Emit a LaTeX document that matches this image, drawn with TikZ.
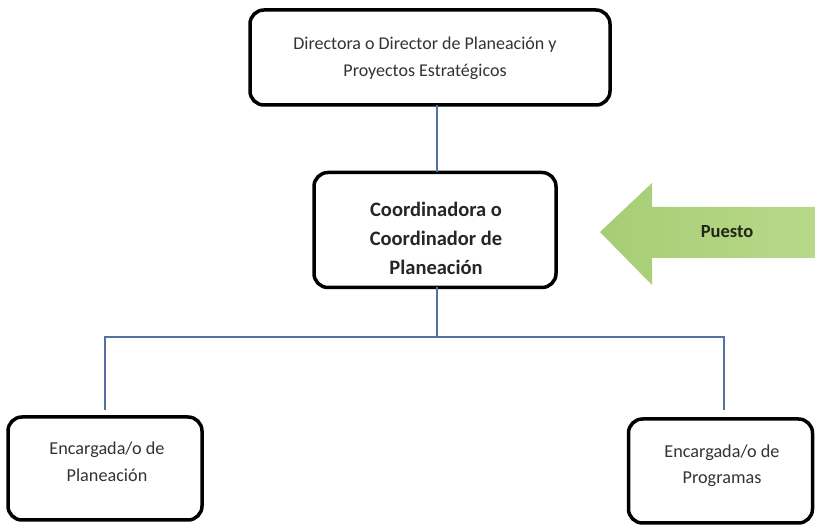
\documentclass[tikz,border=0pt]{standalone}
\usepackage{fontspec}
\setmainfont{Carlito}
\definecolor{connblue}{RGB}{84,114,160}
\definecolor{arrL}{RGB}{166,205,116}
\definecolor{arrR}{RGB}{184,216,138}
\definecolor{puestotxt}{RGB}{30,40,20}
\begin{document}
\begin{tikzpicture}[x=1pt,y=-1pt,
  box/.style={draw=black,line width=3.5pt,rounded corners=14pt,fill=white,
    align=center,inner sep=0pt,text=black!80},
  conn/.style={draw=connblue,line width=1.2pt}]
\useasboundingbox (0,0) rectangle (815,526);
\fill[white] (0,0) rectangle (815,526);
% boxes
\node[box,minimum width=360pt,minimum height=95pt] (top) at (430,57.5) {};
\node[font=\fontsize{18}{27}\selectfont,align=center,text=black!80,inner sep=0pt]
  (toptxt) at (425,58) {Directora o Director de Planeación y\\Proyectos Estratégicos};
\node[box,minimum width=242pt,minimum height=115pt] (mid) at (435,230) {};
\node[font=\bfseries\fontsize{20.5}{29}\selectfont,align=center,text=black!85,inner sep=0pt]
  (midtxt) at (436,238) {Coordinadora o\\Coordinador de\\Planeación};
\node[box,minimum width=194pt,minimum height=103pt] (left) at (105,468.5) {};
\node[font=\fontsize{18.2}{27}\selectfont,align=center,text=black!80,inner sep=0pt]
  (lefttxt) at (107,462) {Encargada/o de\\Planeación};
\node[box,minimum width=184pt,minimum height=104pt] (right) at (720.5,471) {};
\node[font=\fontsize{18.2}{26}\selectfont,align=center,text=black!80,inner sep=0pt]
  (righttxt) at (722,466) {Encargada/o de\\Programas};
% connectors
\coordinate (bus) at (437,337);
\coordinate (lt) at (105,410);
\coordinate (rt) at (724,410);
\draw[conn] (437,105) coordinate (t1) -- (437,172) coordinate (t2);
\draw[conn] (437,287) coordinate (m1) -- (bus);
\draw[conn] (lt) |- (bus) -| (rt);
% arrow
\shade[left color=arrL, right color=arrR]
  (600,232) -- (652,183) -- (652,207) -- (815,207) -- (815,258) -- (652,258) -- (652,285) -- cycle;
\node[font=\bfseries\fontsize{18.5}{20}\selectfont,text=puestotxt] (puesto) at (727,232) {Puesto};
\end{tikzpicture}
\end{document}
